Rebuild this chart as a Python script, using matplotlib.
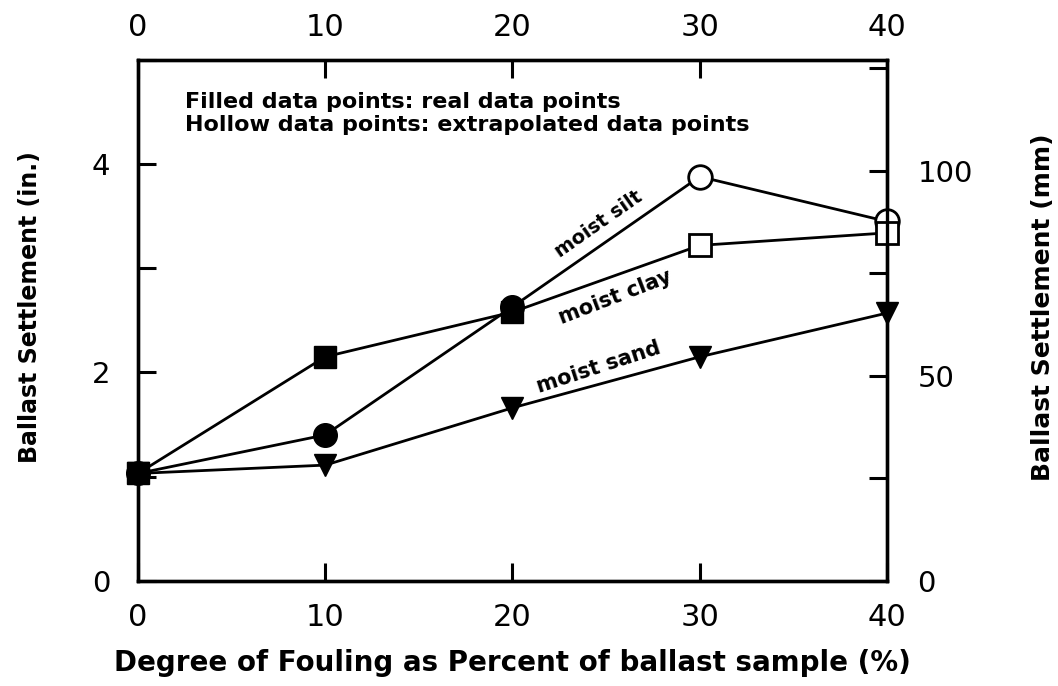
import matplotlib
matplotlib.use("Agg")
import matplotlib.pyplot as plt

# ---- data ----
fouling_pct = [0, 10, 20, 30, 40]
silt_in = [1.03, 1.40, 2.63, 3.88, 3.45]
clay_in = [1.03, 2.15, 2.58, 3.22, 3.34]
sand_in = [1.03, 1.11, 1.66, 2.15, 2.57]
n_real = 3  # first three silt/clay points are real, rest extrapolated
x_ticks = [0, 10, 20, 30, 40]
y_ticks_in = [0, 1, 2, 3, 4, 5]
y_labels_in = ["0", "", "2", "", "4", ""]
y_ticks_mm = [0, 25, 50, 75, 100, 125]
y_labels_mm = ["0", "", "50", "", "100", ""]

plt.rcParams['font.family'] = ['DejaVu Sans']

fig = plt.figure(figsize=(10.58, 6.86), dpi=100)
ax = fig.add_axes([0.1304, 0.1535, 0.7080, 0.7590])

lw = 2.0
mk = dict(clip_on=False, linestyle='none')
# moist silt
ax.plot(fouling_pct, silt_in, color='black', lw=lw, zorder=2, clip_on=False)
ax.plot(fouling_pct[:n_real], silt_in[:n_real], 'o', ms=17, mfc='black', mec='black', zorder=4, **mk)
ax.plot(fouling_pct[n_real:], silt_in[n_real:], 'o', ms=17, mfc='white', mec='black', mew=2, zorder=4, **mk)
# moist clay
ax.plot(fouling_pct, clay_in, color='black', lw=lw, zorder=2, clip_on=False)
ax.plot(fouling_pct[:n_real], clay_in[:n_real], 's', ms=16, mfc='black', mec='black', zorder=5, **mk)
ax.plot(fouling_pct[n_real:], clay_in[n_real:], 's', ms=16, mfc='white', mec='black', mew=2, zorder=5, **mk)
# moist sand
ax.plot(fouling_pct, sand_in, color='black', lw=lw, zorder=2, clip_on=False)
ax.plot(fouling_pct, sand_in, 'v', ms=16, mfc='black', mec='black', zorder=4, **mk)

ax.set_xlim(0, 40)
ax.set_ylim(0, 5)
ax.set_xticks(x_ticks)
ax.set_xticklabels([str(v) for v in x_ticks], fontsize=22)
ax.set_yticks(y_ticks_in)
ax.set_yticklabels(y_labels_in, fontsize=21)
ax.tick_params(axis='both', direction='in', length=13, width=2.2)
ax.tick_params(axis='x', pad=16)
ax.tick_params(axis='y', pad=20)
for s in ax.spines.values():
    s.set_linewidth(2.4)

top = ax.secondary_xaxis('top')
top.set_xticks(x_ticks)
top.set_xticklabels([str(v) for v in x_ticks], fontsize=22)
top.tick_params(direction='in', length=13, width=2.2, pad=13)

ax2 = ax.twinx()
ax2.set_ylim(0, 5 * 25.4)
ax2.set_yticks(y_ticks_mm)
ax2.set_yticklabels(y_labels_mm, fontsize=21)
ax2.tick_params(axis='y', direction='in', length=13, width=2.2, pad=22)
for s in ax2.spines.values():
    s.set_linewidth(2.4)

ax.set_xlabel("Degree of Fouling as Percent of ballast sample (%)", fontsize=20,
              fontweight='bold', va='center')
ax.xaxis.set_label_coords(0.5, -0.158)
ax.set_ylabel("Ballast Settlement (in.)", fontsize=17, fontweight='bold', va='center')
ax.yaxis.set_label_coords(-0.144, 0.525)
ax2.set_ylabel("Ballast Settlement (mm)", fontsize=18, fontweight='bold', va='center')
ax2.yaxis.set_label_coords(1.208, 0.525)

ax.text(2.5, 4.60, "Filled data points: real data points", fontsize=16,
        fontweight='bold', va='center', ha='left')
ax.text(2.5, 4.38, "Hollow data points: extrapolated data points", fontsize=16,
        fontweight='bold', va='center', ha='left')

ax.text(24.6, 3.42, "moist silt", rotation=35, fontsize=14, fontweight='bold',
        ha='center', va='center')
ax.text(25.5, 2.72, "moist clay", rotation=21, fontsize=15, fontweight='bold',
        ha='center', va='center')
ax.text(24.6, 2.05, "moist sand", rotation=18, fontsize=15, fontweight='bold',
        ha='center', va='center')

fig.savefig("out.png", dpi=100)
